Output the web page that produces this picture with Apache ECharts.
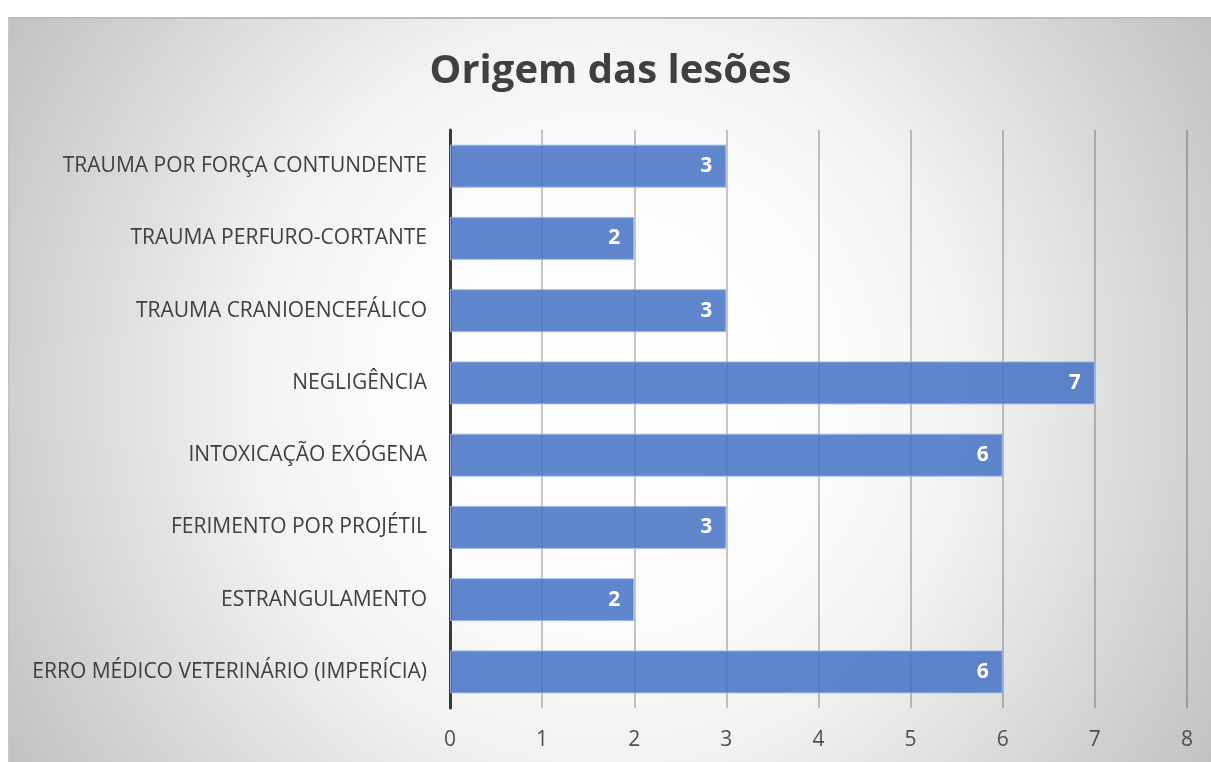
<!DOCTYPE html>
<html>
<head>
<meta charset="utf-8">
<script src="https://cdn.jsdelivr.net/npm/echarts@6/dist/echarts.min.js"></script>
<style>
html,body{margin:0;padding:0;background:#fff;width:1211px;height:762px;overflow:hidden;}
#wrap{position:absolute;left:8px;top:17px;width:1201px;height:743px;border-top:2px solid #bdbdbd;border-left:2px solid #c6c6c6;
background:radial-gradient(ellipse 720px 743px at 50% 50%, #ffffff 0%, #fcfcfc 30%, #f2f2f2 50%, #d0d0d0 83%, #c2c2c2 97%);}
#chart{width:1201px;height:743px;}
</style>
</head>
<body>
<div id="wrap"><div id="chart"></div></div>
<script>
const titleText = 'Origem das lesões';
const categories = [
  'TRAUMA POR FORÇA CONTUNDENTE',
  'TRAUMA PERFURO-CORTANTE',
  'TRAUMA CRANIOENCEFÁLICO',
  'NEGLIGÊNCIA',
  'INTOXICAÇÃO EXÓGENA',
  'FERIMENTO POR PROJÉTIL',
  'ESTRANGULAMENTO',
  'ERRO MÉDICO VETERINÁRIO (IMPERÍCIA)'
];
const values = [3, 2, 3, 7, 6, 3, 2, 6];
const xTicks = [0, 1, 2, 3, 4, 5, 6, 7, 8];

const font = '"Open Sans", "Noto Sans", sans-serif';
const chart = echarts.init(document.getElementById('chart'), null, {renderer: 'canvas'});
chart.setOption({
  backgroundColor: 'transparent',
  animation: false,
  title: {
    text: titleText,
    left: 'center',
    top: 28,
    textStyle: {fontFamily: font, fontSize: 40, fontWeight: 'bold', color: '#404040'}
  },
  grid: {left: 440, top: 111, width: 737, height: 578, containLabel: false},
  xAxis: {
    type: 'value',
    min: xTicks[0],
    max: xTicks[xTicks.length - 1],
    interval: 1,
    axisLine: {show: false},
    axisTick: {show: false},
    axisLabel: {fontFamily: font, fontSize: 21, color: '#505050', margin: 22},
    splitLine: {show: true, lineStyle: {color: 'rgba(0,0,0,0.22)', width: 2}}
  },
  yAxis: {
    type: 'category',
    data: categories,
    inverse: true,
    axisLine: {show: true, lineStyle: {color: '#3a3a3a', width: 3}},
    axisTick: {show: false},
    axisLabel: {fontFamily: font, fontSize: 21, color: '#404040', margin: 23}
  },
  series: [{
    type: 'bar',
    data: values,
    barWidth: 43,
    itemStyle: {color: 'rgba(68,114,196,0.85)', borderColor: 'rgba(160,185,230,0.9)', borderWidth: 1},
    label: {
      show: true,
      position: 'insideRight',
      distance: 14,
      fontFamily: font,
      fontSize: 21,
      fontWeight: 'bold',
      color: '#ffffff'
    }
  }]
});
</script>
</body>
</html>
